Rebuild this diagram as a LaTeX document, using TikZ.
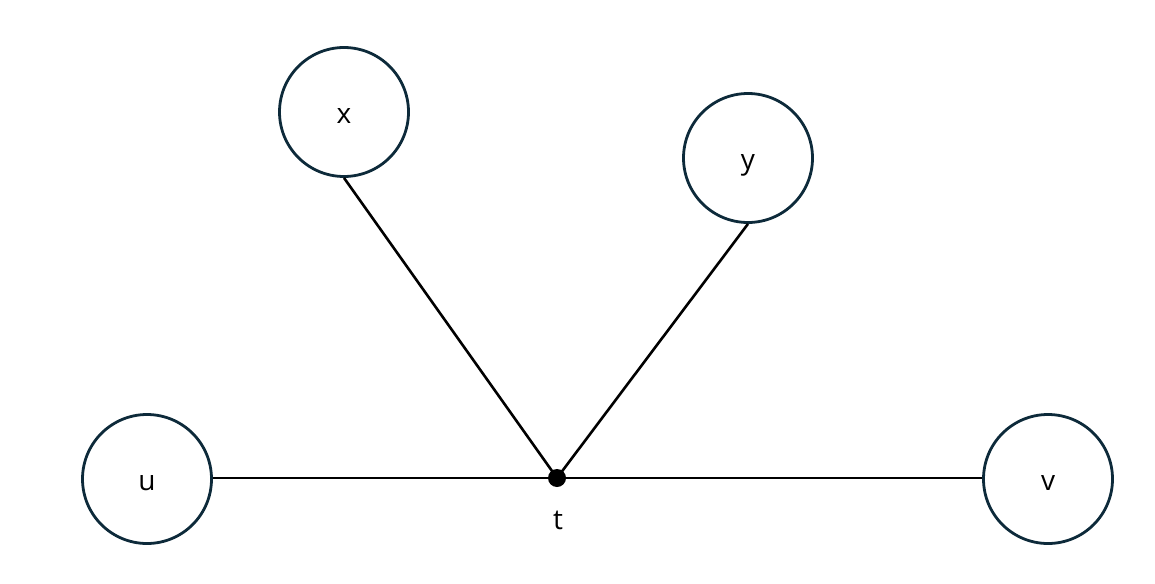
\documentclass[tikz,border=0pt]{standalone}
\usepackage{fontspec}
\setmainfont{Open Sans}
\begin{document}
\begin{tikzpicture}[x=1pt,y=-1pt,
  vertex/.style={circle,draw=navy,line width=2.8pt,minimum size=129pt,inner sep=0pt,text height=22pt,text depth=0pt,font=\fontsize{28}{30}\selectfont},
  junction/.style={circle,fill=black,minimum size=18pt,inner sep=0pt},
  link/.style={line width=2.6pt,draw=black}]
\definecolor{navy}{HTML}{0D2A3A}
\useasboundingbox (0,0) rectangle (1155,583);
\node[vertex] (x) at (344,112) {x};
\node[vertex] (y) at (748,158) {y};
\node[vertex] (u) at (147,479) {u};
\node[vertex] (v) at (1048,479) {v};
\node[junction] (t) at (557,478) {};
\node[font=\fontsize{28}{30}\selectfont] (tl) at (558,520) {t};
\draw[link] (x.south) -- (t.center);
\draw[link] (y.south) -- (t.center);
\draw[link] (u.east |- t.center) -- (t.center);
\draw[link] (t.center) -- (v.west |- t.center);
\end{tikzpicture}
\end{document}
